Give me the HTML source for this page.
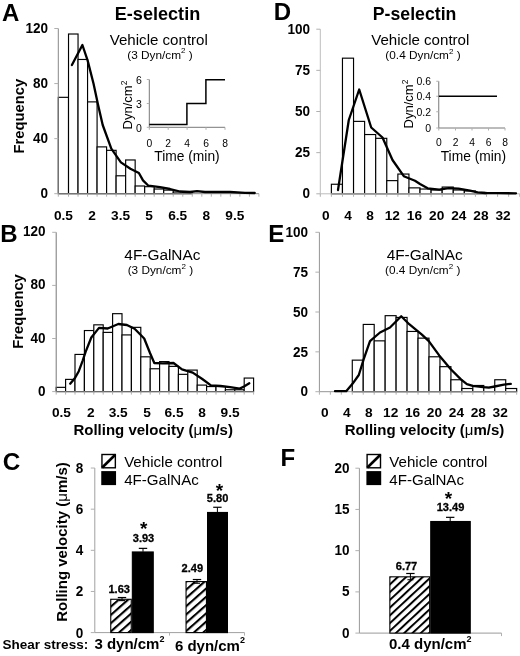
<!DOCTYPE html>
<html><head><meta charset="utf-8"><title>Figure</title>
<style>
html,body{margin:0;padding:0;background:#fff;}
body{width:520px;height:656px;overflow:hidden;}
svg{display:block;font-family:"Liberation Sans",Arial,Helvetica,sans-serif;}
</style></head><body>
<svg width="520" height="656" viewBox="0 0 520 656" fill="#000">
<defs><pattern id="hatchC" width="6.2" height="6.2" patternUnits="userSpaceOnUse" patternTransform="translate(110.3 632) rotate(-41.5) translate(0 -1.05)"><rect width="6.2" height="6.2" fill="#fff"/><rect width="6.2" height="2.1" fill="#000"/></pattern><pattern id="hatchF" width="5.67" height="5.67" patternUnits="userSpaceOnUse" patternTransform="translate(389.5 631.3) rotate(-43) translate(0 -1)"><rect width="5.67" height="5.67" fill="#fff"/><rect width="5.67" height="2.0" fill="#000"/></pattern></defs>
<text x="1.9" y="21" font-size="24" font-weight="bold" text-anchor="start">A</text>
<text x="273.8" y="20.0" font-size="24" font-weight="bold" text-anchor="start">D</text>
<text x="0.2" y="241.6" font-size="24" font-weight="bold" text-anchor="start">B</text>
<text x="268.2" y="241.6" font-size="24" font-weight="bold" text-anchor="start">E</text>
<text x="2.7" y="470.3" font-size="24.3" font-weight="bold" text-anchor="start">C</text>
<text x="280.6" y="465.9" font-size="24" font-weight="bold" text-anchor="start">F</text>
<text x="157.5" y="20.1" font-size="18.1" font-weight="bold" text-anchor="middle">E-selectin</text>
<text x="414.6" y="20.1" font-size="17.7" font-weight="bold" text-anchor="middle">P-selectin</text>
<rect x="58.30" y="97.33" width="10.22" height="96.37" fill="#fff" stroke="#000" stroke-width="1.15"/>
<rect x="68.52" y="34.01" width="9.52" height="159.69" fill="#fff" stroke="#000" stroke-width="1.15"/>
<rect x="78.04" y="59.47" width="9.52" height="134.22" fill="#fff" stroke="#000" stroke-width="1.15"/>
<rect x="87.56" y="101.88" width="9.52" height="91.82" fill="#fff" stroke="#000" stroke-width="1.15"/>
<rect x="97.08" y="146.89" width="9.52" height="46.81" fill="#fff" stroke="#000" stroke-width="1.15"/>
<rect x="106.60" y="150.33" width="9.52" height="43.36" fill="#fff" stroke="#000" stroke-width="1.15"/>
<rect x="116.12" y="175.80" width="9.52" height="17.90" fill="#fff" stroke="#000" stroke-width="1.15"/>
<rect x="125.64" y="159.97" width="9.52" height="33.73" fill="#fff" stroke="#000" stroke-width="1.15"/>
<rect x="135.16" y="185.99" width="9.52" height="7.71" fill="#fff" stroke="#000" stroke-width="1.15"/>
<rect x="144.68" y="186.68" width="9.52" height="7.02" fill="#fff" stroke="#000" stroke-width="1.15"/>
<rect x="154.20" y="189.02" width="9.52" height="4.68" fill="#fff" stroke="#000" stroke-width="1.15"/>
<rect x="163.72" y="190.12" width="9.52" height="3.58" fill="#fff" stroke="#000" stroke-width="1.15"/>
<rect x="173.24" y="192.05" width="9.52" height="1.65" fill="#fff" stroke="#000" stroke-width="1.15"/>
<rect x="182.76" y="192.60" width="9.52" height="1.10" fill="#fff" stroke="#000" stroke-width="1.15"/>
<line x1="58.3" y1="28.5" x2="58.3" y2="193.7" stroke="#888" stroke-width="1"/>
<line x1="58.3" y1="193.7" x2="258.91999999999996" y2="193.7" stroke="#888" stroke-width="1"/>
<line x1="54.3" y1="193.7" x2="58.3" y2="193.7" stroke="#b0b0b0" stroke-width="1"/>
<text transform="translate(48.0 198.4) scale(0.94 1)" font-size="14.4" font-weight="bold" text-anchor="end">0</text>
<line x1="54.3" y1="138.63333333333333" x2="58.3" y2="138.63333333333333" stroke="#b0b0b0" stroke-width="1"/>
<text transform="translate(48.0 143.33) scale(0.94 1)" font-size="14.4" font-weight="bold" text-anchor="end">40</text>
<line x1="54.3" y1="83.56666666666666" x2="58.3" y2="83.56666666666666" stroke="#b0b0b0" stroke-width="1"/>
<text transform="translate(48.0 88.27) scale(0.94 1)" font-size="14.4" font-weight="bold" text-anchor="end">80</text>
<line x1="54.3" y1="28.5" x2="58.3" y2="28.5" stroke="#b0b0b0" stroke-width="1"/>
<text transform="translate(48.0 33.2) scale(0.94 1)" font-size="14.4" font-weight="bold" text-anchor="end">120</text>
<line x1="58.3" y1="193.7" x2="58.3" y2="196.7" stroke="#b0b0b0" stroke-width="1"/>
<line x1="68.52" y1="193.7" x2="68.52" y2="196.7" stroke="#b0b0b0" stroke-width="1"/>
<line x1="78.04" y1="193.7" x2="78.04" y2="196.7" stroke="#b0b0b0" stroke-width="1"/>
<line x1="87.56" y1="193.7" x2="87.56" y2="196.7" stroke="#b0b0b0" stroke-width="1"/>
<line x1="97.08" y1="193.7" x2="97.08" y2="196.7" stroke="#b0b0b0" stroke-width="1"/>
<line x1="106.6" y1="193.7" x2="106.6" y2="196.7" stroke="#b0b0b0" stroke-width="1"/>
<line x1="116.12" y1="193.7" x2="116.12" y2="196.7" stroke="#b0b0b0" stroke-width="1"/>
<line x1="125.64" y1="193.7" x2="125.64" y2="196.7" stroke="#b0b0b0" stroke-width="1"/>
<line x1="135.16" y1="193.7" x2="135.16" y2="196.7" stroke="#b0b0b0" stroke-width="1"/>
<line x1="144.68" y1="193.7" x2="144.68" y2="196.7" stroke="#b0b0b0" stroke-width="1"/>
<line x1="154.2" y1="193.7" x2="154.2" y2="196.7" stroke="#b0b0b0" stroke-width="1"/>
<line x1="163.72" y1="193.7" x2="163.72" y2="196.7" stroke="#b0b0b0" stroke-width="1"/>
<line x1="173.24" y1="193.7" x2="173.24" y2="196.7" stroke="#b0b0b0" stroke-width="1"/>
<line x1="182.76" y1="193.7" x2="182.76" y2="196.7" stroke="#b0b0b0" stroke-width="1"/>
<line x1="192.28" y1="193.7" x2="192.28" y2="196.7" stroke="#b0b0b0" stroke-width="1"/>
<line x1="201.8" y1="193.7" x2="201.8" y2="196.7" stroke="#b0b0b0" stroke-width="1"/>
<line x1="211.32" y1="193.7" x2="211.32" y2="196.7" stroke="#b0b0b0" stroke-width="1"/>
<line x1="220.84" y1="193.7" x2="220.84" y2="196.7" stroke="#b0b0b0" stroke-width="1"/>
<line x1="230.36" y1="193.7" x2="230.36" y2="196.7" stroke="#b0b0b0" stroke-width="1"/>
<line x1="239.88" y1="193.7" x2="239.88" y2="196.7" stroke="#b0b0b0" stroke-width="1"/>
<line x1="249.4" y1="193.7" x2="249.4" y2="196.7" stroke="#b0b0b0" stroke-width="1"/>
<line x1="258.92" y1="193.7" x2="258.92" y2="196.7" stroke="#b0b0b0" stroke-width="1"/>
<text x="63.46" y="220.2" font-size="13.7" font-weight="bold" text-anchor="middle">0.5</text>
<text x="92.02" y="220.2" font-size="13.7" font-weight="bold" text-anchor="middle">2</text>
<text x="120.58" y="220.2" font-size="13.7" font-weight="bold" text-anchor="middle">3.5</text>
<text x="149.14" y="220.2" font-size="13.7" font-weight="bold" text-anchor="middle">5</text>
<text x="177.7" y="220.2" font-size="13.7" font-weight="bold" text-anchor="middle">6.5</text>
<text x="206.26" y="220.2" font-size="13.7" font-weight="bold" text-anchor="middle">8</text>
<text x="234.82" y="220.2" font-size="13.7" font-weight="bold" text-anchor="middle">9.5</text>
<polyline points="71.9,65.0 82.4,45.0 87.6,60.4 93.5,83.5 98.1,105.0 102.7,125.0 111.3,148.7 120.9,162.4 130.4,168.8 138.9,173.0 143.0,180.4 148.4,185.7 160.0,187.2 170.0,189.0 180.0,191.5 190.0,192.0 197.0,191.2 205.0,192.0 230.0,192.0 245.0,192.8 254.7,193.0" fill="none" stroke="#000" stroke-width="2.3" stroke-linejoin="round" stroke-linecap="round"/>
<text transform="translate(24.1 116.2) rotate(-90) scale(0.965 1)" font-size="15.3" font-weight="bold" text-anchor="middle">Frequency</text>
<text x="158.8" y="44.8" font-size="15.1" text-anchor="middle">Vehicle control</text>
<text x="160" y="58.7" font-size="11.8" text-anchor="middle">(3 Dyn/cm<tspan font-size="8" dy="-5.3">2</tspan><tspan dy="5.3"> )</tspan></text>
<line x1="149.3" y1="79.5" x2="149.3" y2="127.3" stroke="#787878" stroke-width="1"/>
<line x1="149.3" y1="127.3" x2="225" y2="127.3" stroke="#787878" stroke-width="1"/>
<line x1="146.8" y1="79.5" x2="149.3" y2="79.5" stroke="#b0b0b0" stroke-width="1"/>
<text x="141.9" y="83.7" font-size="10.5" text-anchor="end">6</text>
<line x1="146.8" y1="103.5" x2="149.3" y2="103.5" stroke="#b0b0b0" stroke-width="1"/>
<text x="141.9" y="107.7" font-size="10.5" text-anchor="end">3</text>
<line x1="146.8" y1="127.3" x2="149.3" y2="127.3" stroke="#b0b0b0" stroke-width="1"/>
<text x="141.9" y="131.5" font-size="10.5" text-anchor="end">0</text>
<line x1="149.3" y1="127.3" x2="149.3" y2="129.8" stroke="#b0b0b0" stroke-width="1"/>
<text x="149.3" y="146.5" font-size="10.3" text-anchor="middle">0</text>
<line x1="168.2" y1="127.3" x2="168.2" y2="129.8" stroke="#b0b0b0" stroke-width="1"/>
<text x="168.2" y="146.5" font-size="10.3" text-anchor="middle">2</text>
<line x1="187.1" y1="127.3" x2="187.1" y2="129.8" stroke="#b0b0b0" stroke-width="1"/>
<text x="187.1" y="146.5" font-size="10.3" text-anchor="middle">4</text>
<line x1="206" y1="127.3" x2="206" y2="129.8" stroke="#b0b0b0" stroke-width="1"/>
<text x="206" y="146.5" font-size="10.3" text-anchor="middle">6</text>
<line x1="225" y1="127.3" x2="225" y2="129.8" stroke="#b0b0b0" stroke-width="1"/>
<text x="225" y="146.5" font-size="10.3" text-anchor="middle">8</text>
<polyline points="149.3,124.5 186.9,124.5 186.9,103.5 205.9,103.5 205.9,79.8 225.0,79.8" fill="none" stroke="#000" stroke-width="1.5"/>
<text x="131.5" y="105" font-size="13" text-anchor="middle" transform="rotate(-90 131.5 105)">Dyn/cm<tspan font-size="8.5" dy="-5">2</tspan></text>
<text x="187" y="160.8" font-size="13.8" text-anchor="middle">Time (min)</text>
<rect x="331.38" y="184.25" width="11.08" height="9.55" fill="#fff" stroke="#000" stroke-width="1.15"/>
<rect x="342.46" y="58.17" width="11.08" height="135.63" fill="#fff" stroke="#000" stroke-width="1.15"/>
<rect x="353.54" y="121.38" width="11.08" height="72.42" fill="#fff" stroke="#000" stroke-width="1.15"/>
<rect x="364.62" y="134.54" width="11.08" height="59.26" fill="#fff" stroke="#000" stroke-width="1.15"/>
<rect x="375.70" y="138.33" width="11.08" height="55.47" fill="#fff" stroke="#000" stroke-width="1.15"/>
<rect x="386.78" y="180.63" width="11.08" height="13.17" fill="#fff" stroke="#000" stroke-width="1.15"/>
<rect x="397.86" y="174.05" width="11.08" height="19.75" fill="#fff" stroke="#000" stroke-width="1.15"/>
<rect x="408.94" y="187.87" width="11.08" height="5.93" fill="#fff" stroke="#000" stroke-width="1.15"/>
<rect x="420.02" y="189.03" width="11.08" height="4.77" fill="#fff" stroke="#000" stroke-width="1.15"/>
<rect x="431.10" y="190.01" width="11.08" height="3.79" fill="#fff" stroke="#000" stroke-width="1.15"/>
<rect x="442.18" y="187.05" width="11.08" height="6.75" fill="#fff" stroke="#000" stroke-width="1.15"/>
<rect x="453.26" y="190.01" width="11.08" height="3.79" fill="#fff" stroke="#000" stroke-width="1.15"/>
<rect x="464.34" y="191.00" width="11.08" height="2.80" fill="#fff" stroke="#000" stroke-width="1.15"/>
<rect x="475.42" y="192.48" width="11.08" height="1.32" fill="#fff" stroke="#000" stroke-width="1.15"/>
<line x1="320.3" y1="29.2" x2="320.3" y2="193.8" stroke="#bdbdbd" stroke-width="1"/>
<line x1="320.3" y1="193.8" x2="519.74" y2="193.8" stroke="#bdbdbd" stroke-width="1"/>
<line x1="316.3" y1="193.8" x2="320.3" y2="193.8" stroke="#b0b0b0" stroke-width="1"/>
<text transform="translate(310 198.1) scale(0.94 1)" font-size="14.4" font-weight="bold" text-anchor="end">0</text>
<line x1="316.3" y1="152.65" x2="320.3" y2="152.65" stroke="#b0b0b0" stroke-width="1"/>
<text transform="translate(310 156.95) scale(0.94 1)" font-size="14.4" font-weight="bold" text-anchor="end">25</text>
<line x1="316.3" y1="111.5" x2="320.3" y2="111.5" stroke="#b0b0b0" stroke-width="1"/>
<text transform="translate(310 115.8) scale(0.94 1)" font-size="14.4" font-weight="bold" text-anchor="end">50</text>
<line x1="316.3" y1="70.35000000000001" x2="320.3" y2="70.35000000000001" stroke="#b0b0b0" stroke-width="1"/>
<text transform="translate(310 74.65) scale(0.94 1)" font-size="14.4" font-weight="bold" text-anchor="end">75</text>
<line x1="316.3" y1="29.19999999999999" x2="320.3" y2="29.19999999999999" stroke="#b0b0b0" stroke-width="1"/>
<text transform="translate(310 33.5) scale(0.94 1)" font-size="14.4" font-weight="bold" text-anchor="end">100</text>
<line x1="320.3" y1="193.8" x2="320.3" y2="196.8" stroke="#b0b0b0" stroke-width="1"/>
<line x1="331.38" y1="193.8" x2="331.38" y2="196.8" stroke="#b0b0b0" stroke-width="1"/>
<line x1="342.46" y1="193.8" x2="342.46" y2="196.8" stroke="#b0b0b0" stroke-width="1"/>
<line x1="353.54" y1="193.8" x2="353.54" y2="196.8" stroke="#b0b0b0" stroke-width="1"/>
<line x1="364.62" y1="193.8" x2="364.62" y2="196.8" stroke="#b0b0b0" stroke-width="1"/>
<line x1="375.7" y1="193.8" x2="375.7" y2="196.8" stroke="#b0b0b0" stroke-width="1"/>
<line x1="386.78" y1="193.8" x2="386.78" y2="196.8" stroke="#b0b0b0" stroke-width="1"/>
<line x1="397.86" y1="193.8" x2="397.86" y2="196.8" stroke="#b0b0b0" stroke-width="1"/>
<line x1="408.94" y1="193.8" x2="408.94" y2="196.8" stroke="#b0b0b0" stroke-width="1"/>
<line x1="420.02" y1="193.8" x2="420.02" y2="196.8" stroke="#b0b0b0" stroke-width="1"/>
<line x1="431.1" y1="193.8" x2="431.1" y2="196.8" stroke="#b0b0b0" stroke-width="1"/>
<line x1="442.18" y1="193.8" x2="442.18" y2="196.8" stroke="#b0b0b0" stroke-width="1"/>
<line x1="453.26" y1="193.8" x2="453.26" y2="196.8" stroke="#b0b0b0" stroke-width="1"/>
<line x1="464.34" y1="193.8" x2="464.34" y2="196.8" stroke="#b0b0b0" stroke-width="1"/>
<line x1="475.42" y1="193.8" x2="475.42" y2="196.8" stroke="#b0b0b0" stroke-width="1"/>
<line x1="486.5" y1="193.8" x2="486.5" y2="196.8" stroke="#b0b0b0" stroke-width="1"/>
<line x1="497.58" y1="193.8" x2="497.58" y2="196.8" stroke="#b0b0b0" stroke-width="1"/>
<line x1="508.66" y1="193.8" x2="508.66" y2="196.8" stroke="#b0b0b0" stroke-width="1"/>
<line x1="519.74" y1="193.8" x2="519.74" y2="196.8" stroke="#b0b0b0" stroke-width="1"/>
<text x="325.84" y="220.2" font-size="13.7" font-weight="bold" text-anchor="middle">0</text>
<text x="348.0" y="220.2" font-size="13.7" font-weight="bold" text-anchor="middle">4</text>
<text x="370.16" y="220.2" font-size="13.7" font-weight="bold" text-anchor="middle">8</text>
<text x="392.32" y="220.2" font-size="13.7" font-weight="bold" text-anchor="middle">12</text>
<text x="414.48" y="220.2" font-size="13.7" font-weight="bold" text-anchor="middle">16</text>
<text x="436.64" y="220.2" font-size="13.7" font-weight="bold" text-anchor="middle">20</text>
<text x="458.8" y="220.2" font-size="13.7" font-weight="bold" text-anchor="middle">24</text>
<text x="480.96" y="220.2" font-size="13.7" font-weight="bold" text-anchor="middle">28</text>
<text x="503.12" y="220.2" font-size="13.7" font-weight="bold" text-anchor="middle">32</text>
<polyline points="338.0,190.0 348.8,120.0 359.2,89.5 371.2,127.5 382.5,137.5 392.5,160.0 403.8,176.2 415.0,180.8 420.0,184.0 427.7,188.3 439.2,189.6 448.8,188.1 458.5,188.6 470.0,190.6 477.7,192.3 485.4,193.0 497.0,193.2 516.0,193.3" fill="none" stroke="#000" stroke-width="2.3" stroke-linejoin="round" stroke-linecap="round"/>
<text x="420.3" y="45.1" font-size="15.1" text-anchor="middle">Vehicle control</text>
<text x="423" y="59" font-size="11.8" text-anchor="middle">(0.4 Dyn/cm<tspan font-size="8" dy="-5.3">2</tspan><tspan dy="5.3"> )</tspan></text>
<line x1="438.75" y1="81.25" x2="438.75" y2="128" stroke="#787878" stroke-width="1"/>
<line x1="438.75" y1="128" x2="505" y2="128" stroke="#787878" stroke-width="1"/>
<line x1="436.25" y1="81.25" x2="438.75" y2="81.25" stroke="#b0b0b0" stroke-width="1"/>
<text x="431" y="85.45" font-size="10.5" text-anchor="end">0.6</text>
<line x1="436.25" y1="96.25" x2="438.75" y2="96.25" stroke="#b0b0b0" stroke-width="1"/>
<text x="431" y="100.45" font-size="10.5" text-anchor="end">0.4</text>
<line x1="436.25" y1="111.75" x2="438.75" y2="111.75" stroke="#b0b0b0" stroke-width="1"/>
<text x="431" y="115.95" font-size="10.5" text-anchor="end">0.2</text>
<line x1="436.25" y1="128" x2="438.75" y2="128" stroke="#b0b0b0" stroke-width="1"/>
<text x="431" y="132.2" font-size="10.5" text-anchor="end">0</text>
<line x1="438.75" y1="128" x2="438.75" y2="130.5" stroke="#b0b0b0" stroke-width="1"/>
<text x="438.75" y="146.3" font-size="10.3" text-anchor="middle">0</text>
<line x1="455.5" y1="128" x2="455.5" y2="130.5" stroke="#b0b0b0" stroke-width="1"/>
<text x="455.5" y="146.3" font-size="10.3" text-anchor="middle">2</text>
<line x1="472" y1="128" x2="472" y2="130.5" stroke="#b0b0b0" stroke-width="1"/>
<text x="472" y="146.3" font-size="10.3" text-anchor="middle">4</text>
<line x1="488.5" y1="128" x2="488.5" y2="130.5" stroke="#b0b0b0" stroke-width="1"/>
<text x="488.5" y="146.3" font-size="10.3" text-anchor="middle">6</text>
<line x1="505" y1="128" x2="505" y2="130.5" stroke="#b0b0b0" stroke-width="1"/>
<text x="505" y="146.3" font-size="10.3" text-anchor="middle">8</text>
<polyline points="438.8,96.2 497.0,96.2" fill="none" stroke="#000" stroke-width="1.5"/>
<text x="413" y="104" font-size="13" text-anchor="middle" transform="rotate(-90 413 104)">Dyn/cm<tspan font-size="8.5" dy="-5">2</tspan></text>
<text x="473.4" y="160.8" font-size="13.8" text-anchor="middle">Time (min)</text>
<rect x="56.20" y="387.35" width="9.40" height="4.25" fill="#fff" stroke="#000" stroke-width="1.15"/>
<rect x="65.60" y="379.39" width="9.40" height="12.21" fill="#fff" stroke="#000" stroke-width="1.15"/>
<rect x="75.00" y="354.43" width="9.40" height="37.17" fill="#fff" stroke="#000" stroke-width="1.15"/>
<rect x="84.40" y="330.54" width="9.40" height="61.07" fill="#fff" stroke="#000" stroke-width="1.15"/>
<rect x="93.80" y="324.83" width="9.40" height="66.77" fill="#fff" stroke="#000" stroke-width="1.15"/>
<rect x="103.20" y="332.39" width="9.40" height="59.21" fill="#fff" stroke="#000" stroke-width="1.15"/>
<rect x="112.60" y="313.68" width="9.40" height="77.92" fill="#fff" stroke="#000" stroke-width="1.15"/>
<rect x="122.00" y="334.92" width="9.40" height="56.68" fill="#fff" stroke="#000" stroke-width="1.15"/>
<rect x="131.40" y="327.35" width="9.40" height="64.25" fill="#fff" stroke="#000" stroke-width="1.15"/>
<rect x="140.80" y="356.82" width="9.40" height="34.78" fill="#fff" stroke="#000" stroke-width="1.15"/>
<rect x="150.20" y="368.77" width="9.40" height="22.83" fill="#fff" stroke="#000" stroke-width="1.15"/>
<rect x="159.60" y="361.60" width="9.40" height="30.00" fill="#fff" stroke="#000" stroke-width="1.15"/>
<rect x="169.00" y="366.38" width="9.40" height="25.22" fill="#fff" stroke="#000" stroke-width="1.15"/>
<rect x="178.40" y="374.34" width="9.40" height="17.26" fill="#fff" stroke="#000" stroke-width="1.15"/>
<rect x="187.80" y="370.09" width="9.40" height="21.51" fill="#fff" stroke="#000" stroke-width="1.15"/>
<rect x="197.20" y="385.10" width="9.40" height="6.50" fill="#fff" stroke="#000" stroke-width="1.15"/>
<rect x="206.60" y="386.56" width="9.40" height="5.04" fill="#fff" stroke="#000" stroke-width="1.15"/>
<rect x="216.00" y="386.56" width="9.40" height="5.04" fill="#fff" stroke="#000" stroke-width="1.15"/>
<rect x="225.40" y="389.74" width="9.40" height="1.86" fill="#fff" stroke="#000" stroke-width="1.15"/>
<rect x="234.80" y="389.74" width="9.40" height="1.86" fill="#fff" stroke="#000" stroke-width="1.15"/>
<rect x="244.20" y="378.06" width="9.40" height="13.54" fill="#fff" stroke="#000" stroke-width="1.15"/>
<line x1="56.2" y1="232.3" x2="56.2" y2="391.6" stroke="#777" stroke-width="1"/>
<line x1="56.2" y1="391.6" x2="253.60000000000002" y2="391.6" stroke="#777" stroke-width="1"/>
<line x1="52.2" y1="391.6" x2="56.2" y2="391.6" stroke="#b0b0b0" stroke-width="1"/>
<text transform="translate(45.6 395.6) scale(0.94 1)" font-size="14.4" font-weight="bold" text-anchor="end">0</text>
<line x1="52.2" y1="338.5" x2="56.2" y2="338.5" stroke="#b0b0b0" stroke-width="1"/>
<text transform="translate(45.6 342.5) scale(0.94 1)" font-size="14.4" font-weight="bold" text-anchor="end">40</text>
<line x1="52.2" y1="285.4" x2="56.2" y2="285.4" stroke="#b0b0b0" stroke-width="1"/>
<text transform="translate(45.6 289.4) scale(0.94 1)" font-size="14.4" font-weight="bold" text-anchor="end">80</text>
<line x1="52.2" y1="232.3" x2="56.2" y2="232.3" stroke="#b0b0b0" stroke-width="1"/>
<text transform="translate(45.6 236.3) scale(0.94 1)" font-size="14.4" font-weight="bold" text-anchor="end">120</text>
<line x1="56.2" y1="391.6" x2="56.2" y2="394.6" stroke="#b0b0b0" stroke-width="1"/>
<line x1="65.6" y1="391.6" x2="65.6" y2="394.6" stroke="#b0b0b0" stroke-width="1"/>
<line x1="75.0" y1="391.6" x2="75.0" y2="394.6" stroke="#b0b0b0" stroke-width="1"/>
<line x1="84.4" y1="391.6" x2="84.4" y2="394.6" stroke="#b0b0b0" stroke-width="1"/>
<line x1="93.8" y1="391.6" x2="93.8" y2="394.6" stroke="#b0b0b0" stroke-width="1"/>
<line x1="103.2" y1="391.6" x2="103.2" y2="394.6" stroke="#b0b0b0" stroke-width="1"/>
<line x1="112.6" y1="391.6" x2="112.6" y2="394.6" stroke="#b0b0b0" stroke-width="1"/>
<line x1="122.0" y1="391.6" x2="122.0" y2="394.6" stroke="#b0b0b0" stroke-width="1"/>
<line x1="131.4" y1="391.6" x2="131.4" y2="394.6" stroke="#b0b0b0" stroke-width="1"/>
<line x1="140.8" y1="391.6" x2="140.8" y2="394.6" stroke="#b0b0b0" stroke-width="1"/>
<line x1="150.2" y1="391.6" x2="150.2" y2="394.6" stroke="#b0b0b0" stroke-width="1"/>
<line x1="159.6" y1="391.6" x2="159.6" y2="394.6" stroke="#b0b0b0" stroke-width="1"/>
<line x1="169.0" y1="391.6" x2="169.0" y2="394.6" stroke="#b0b0b0" stroke-width="1"/>
<line x1="178.4" y1="391.6" x2="178.4" y2="394.6" stroke="#b0b0b0" stroke-width="1"/>
<line x1="187.8" y1="391.6" x2="187.8" y2="394.6" stroke="#b0b0b0" stroke-width="1"/>
<line x1="197.2" y1="391.6" x2="197.2" y2="394.6" stroke="#b0b0b0" stroke-width="1"/>
<line x1="206.6" y1="391.6" x2="206.6" y2="394.6" stroke="#b0b0b0" stroke-width="1"/>
<line x1="216.0" y1="391.6" x2="216.0" y2="394.6" stroke="#b0b0b0" stroke-width="1"/>
<line x1="225.4" y1="391.6" x2="225.4" y2="394.6" stroke="#b0b0b0" stroke-width="1"/>
<line x1="234.8" y1="391.6" x2="234.8" y2="394.6" stroke="#b0b0b0" stroke-width="1"/>
<line x1="244.2" y1="391.6" x2="244.2" y2="394.6" stroke="#b0b0b0" stroke-width="1"/>
<line x1="253.6" y1="391.6" x2="253.6" y2="394.6" stroke="#b0b0b0" stroke-width="1"/>
<text x="61.4" y="417.4" font-size="13.7" font-weight="bold" text-anchor="middle">0.5</text>
<text x="90.7" y="417.4" font-size="13.7" font-weight="bold" text-anchor="middle">2</text>
<text x="118.2" y="417.4" font-size="13.7" font-weight="bold" text-anchor="middle">3.5</text>
<text x="147" y="417.4" font-size="13.7" font-weight="bold" text-anchor="middle">5</text>
<text x="174" y="417.4" font-size="13.7" font-weight="bold" text-anchor="middle">6.5</text>
<text x="202" y="417.4" font-size="13.7" font-weight="bold" text-anchor="middle">8</text>
<text x="230.1" y="417.4" font-size="13.7" font-weight="bold" text-anchor="middle">9.5</text>
<polyline points="70.2,383.7 75.0,377.9 78.8,371.2 82.7,360.6 85.6,351.9 91.3,337.5 99.0,327.9 107.7,328.5 118.3,324.0 126.9,325.0 134.6,328.8 144.2,338.5 150.0,353.0 154.3,363.0 162.8,363.4 173.5,363.0 182.0,369.4 192.7,372.6 202.3,379.0 210.9,385.4 220.5,386.0 230.1,387.1 239.7,388.6 244.0,386.5 249.3,383.3" fill="none" stroke="#000" stroke-width="2.3" stroke-linejoin="round" stroke-linecap="round"/>
<text transform="translate(22.8 311.5) rotate(-90) scale(0.965 1)" font-size="15.3" font-weight="bold" text-anchor="middle">Frequency</text>
<text x="162.4" y="260.4" font-size="15.4" text-anchor="middle">4F-GalNAc</text>
<text x="160.4" y="274" font-size="11.8" text-anchor="middle">(3 Dyn/cm<tspan font-size="8" dy="-5.3">2</tspan><tspan dy="5.3"> )</tspan></text>
<text x="153.2" y="434.6" font-size="15" font-weight="bold" text-anchor="middle">Rolling velocity (<tspan font-weight="normal">μ</tspan>m/s)</text>
<rect x="352.28" y="360.14" width="10.96" height="31.56" fill="#fff" stroke="#000" stroke-width="1.15"/>
<rect x="363.24" y="324.43" width="10.96" height="67.27" fill="#fff" stroke="#000" stroke-width="1.15"/>
<rect x="374.20" y="340.85" width="10.96" height="50.85" fill="#fff" stroke="#000" stroke-width="1.15"/>
<rect x="385.16" y="315.67" width="10.96" height="76.03" fill="#fff" stroke="#000" stroke-width="1.15"/>
<rect x="396.12" y="317.42" width="10.96" height="74.28" fill="#fff" stroke="#000" stroke-width="1.15"/>
<rect x="407.08" y="331.45" width="10.96" height="60.25" fill="#fff" stroke="#000" stroke-width="1.15"/>
<rect x="418.04" y="338.14" width="10.96" height="53.56" fill="#fff" stroke="#000" stroke-width="1.15"/>
<rect x="429.00" y="356.79" width="10.96" height="34.91" fill="#fff" stroke="#000" stroke-width="1.15"/>
<rect x="439.96" y="366.67" width="10.96" height="25.03" fill="#fff" stroke="#000" stroke-width="1.15"/>
<rect x="450.92" y="379.75" width="10.96" height="11.95" fill="#fff" stroke="#000" stroke-width="1.15"/>
<rect x="461.88" y="388.51" width="10.96" height="3.19" fill="#fff" stroke="#000" stroke-width="1.15"/>
<rect x="472.84" y="385.48" width="10.96" height="6.22" fill="#fff" stroke="#000" stroke-width="1.15"/>
<rect x="483.80" y="387.40" width="10.96" height="4.30" fill="#fff" stroke="#000" stroke-width="1.15"/>
<rect x="494.76" y="379.75" width="10.96" height="11.95" fill="#fff" stroke="#000" stroke-width="1.15"/>
<rect x="505.72" y="388.51" width="10.96" height="3.19" fill="#fff" stroke="#000" stroke-width="1.15"/>
<line x1="319.4" y1="232.3" x2="319.4" y2="391.7" stroke="#949494" stroke-width="1"/>
<line x1="319.4" y1="391.7" x2="516.6800000000001" y2="391.7" stroke="#949494" stroke-width="1"/>
<line x1="315.4" y1="391.7" x2="319.4" y2="391.7" stroke="#b0b0b0" stroke-width="1"/>
<text transform="translate(308 396.4) scale(0.94 1)" font-size="14.4" font-weight="bold" text-anchor="end">0</text>
<line x1="315.4" y1="351.85" x2="319.4" y2="351.85" stroke="#b0b0b0" stroke-width="1"/>
<text transform="translate(308 356.55) scale(0.94 1)" font-size="14.4" font-weight="bold" text-anchor="end">25</text>
<line x1="315.4" y1="312.0" x2="319.4" y2="312.0" stroke="#b0b0b0" stroke-width="1"/>
<text transform="translate(308 316.7) scale(0.94 1)" font-size="14.4" font-weight="bold" text-anchor="end">50</text>
<line x1="315.4" y1="272.15" x2="319.4" y2="272.15" stroke="#b0b0b0" stroke-width="1"/>
<text transform="translate(308 276.85) scale(0.94 1)" font-size="14.4" font-weight="bold" text-anchor="end">75</text>
<line x1="315.4" y1="232.3" x2="319.4" y2="232.3" stroke="#b0b0b0" stroke-width="1"/>
<text transform="translate(308 237.0) scale(0.94 1)" font-size="14.4" font-weight="bold" text-anchor="end">100</text>
<line x1="319.4" y1="391.7" x2="319.4" y2="394.7" stroke="#b0b0b0" stroke-width="1"/>
<line x1="330.36" y1="391.7" x2="330.36" y2="394.7" stroke="#b0b0b0" stroke-width="1"/>
<line x1="341.32" y1="391.7" x2="341.32" y2="394.7" stroke="#b0b0b0" stroke-width="1"/>
<line x1="352.28" y1="391.7" x2="352.28" y2="394.7" stroke="#b0b0b0" stroke-width="1"/>
<line x1="363.24" y1="391.7" x2="363.24" y2="394.7" stroke="#b0b0b0" stroke-width="1"/>
<line x1="374.2" y1="391.7" x2="374.2" y2="394.7" stroke="#b0b0b0" stroke-width="1"/>
<line x1="385.16" y1="391.7" x2="385.16" y2="394.7" stroke="#b0b0b0" stroke-width="1"/>
<line x1="396.12" y1="391.7" x2="396.12" y2="394.7" stroke="#b0b0b0" stroke-width="1"/>
<line x1="407.08" y1="391.7" x2="407.08" y2="394.7" stroke="#b0b0b0" stroke-width="1"/>
<line x1="418.04" y1="391.7" x2="418.04" y2="394.7" stroke="#b0b0b0" stroke-width="1"/>
<line x1="429.0" y1="391.7" x2="429.0" y2="394.7" stroke="#b0b0b0" stroke-width="1"/>
<line x1="439.96" y1="391.7" x2="439.96" y2="394.7" stroke="#b0b0b0" stroke-width="1"/>
<line x1="450.92" y1="391.7" x2="450.92" y2="394.7" stroke="#b0b0b0" stroke-width="1"/>
<line x1="461.88" y1="391.7" x2="461.88" y2="394.7" stroke="#b0b0b0" stroke-width="1"/>
<line x1="472.84" y1="391.7" x2="472.84" y2="394.7" stroke="#b0b0b0" stroke-width="1"/>
<line x1="483.8" y1="391.7" x2="483.8" y2="394.7" stroke="#b0b0b0" stroke-width="1"/>
<line x1="494.76" y1="391.7" x2="494.76" y2="394.7" stroke="#b0b0b0" stroke-width="1"/>
<line x1="505.72" y1="391.7" x2="505.72" y2="394.7" stroke="#b0b0b0" stroke-width="1"/>
<line x1="516.68" y1="391.7" x2="516.68" y2="394.7" stroke="#b0b0b0" stroke-width="1"/>
<text x="324.88" y="417.4" font-size="13.7" font-weight="bold" text-anchor="middle">0</text>
<text x="346.8" y="417.4" font-size="13.7" font-weight="bold" text-anchor="middle">4</text>
<text x="368.72" y="417.4" font-size="13.7" font-weight="bold" text-anchor="middle">8</text>
<text x="390.64" y="417.4" font-size="13.7" font-weight="bold" text-anchor="middle">12</text>
<text x="412.56" y="417.4" font-size="13.7" font-weight="bold" text-anchor="middle">16</text>
<text x="434.48" y="417.4" font-size="13.7" font-weight="bold" text-anchor="middle">20</text>
<text x="456.4" y="417.4" font-size="13.7" font-weight="bold" text-anchor="middle">24</text>
<text x="478.32" y="417.4" font-size="13.7" font-weight="bold" text-anchor="middle">28</text>
<text x="500.24" y="417.4" font-size="13.7" font-weight="bold" text-anchor="middle">32</text>
<polyline points="335.0,391.2 346.2,391.2 352.5,383.8 358.8,375.0 363.8,358.8 370.0,341.2 380.0,332.5 390.0,327.5 401.2,316.2 409.2,324.2 421.9,334.6 428.8,341.1 439.2,355.4 450.8,369.2 461.2,379.6 466.9,384.2 472.7,385.9 483.1,387.2 488.8,387.7 494.6,386.5 503.9,384.7 510.8,383.8" fill="none" stroke="#000" stroke-width="2.3" stroke-linejoin="round" stroke-linecap="round"/>
<text x="424.7" y="260.4" font-size="15.4" text-anchor="middle">4F-GalNAc</text>
<text x="422.7" y="274" font-size="11.8" text-anchor="middle">(0.4 Dyn/cm<tspan font-size="8" dy="-5.3">2</tspan><tspan dy="5.3"> )</tspan></text>
<text x="424.5" y="434.6" font-size="15" font-weight="bold" text-anchor="middle">Rolling velocity (<tspan font-weight="normal">μ</tspan>m/s)</text>
<line x1="94.8" y1="468.04" x2="94.8" y2="632.6" stroke="#a0a0a0" stroke-width="1"/>
<line x1="94.8" y1="632.6" x2="244.5" y2="632.6" stroke="#a0a0a0" stroke-width="1"/>
<line x1="169.5" y1="632.6" x2="169.5" y2="635.6" stroke="#b0b0b0" stroke-width="1"/>
<line x1="244.5" y1="632.6" x2="244.5" y2="635.6" stroke="#b0b0b0" stroke-width="1"/>
<line x1="90.8" y1="632.6" x2="94.8" y2="632.6" stroke="#b0b0b0" stroke-width="1"/>
<text transform="translate(83.3 637.5) scale(0.94 1)" font-size="14.4" font-weight="bold" text-anchor="end">0</text>
<line x1="90.8" y1="591.46" x2="94.8" y2="591.46" stroke="#b0b0b0" stroke-width="1"/>
<text transform="translate(83.3 596.36) scale(0.94 1)" font-size="14.4" font-weight="bold" text-anchor="end">2</text>
<line x1="90.8" y1="550.32" x2="94.8" y2="550.32" stroke="#b0b0b0" stroke-width="1"/>
<text transform="translate(83.3 555.22) scale(0.94 1)" font-size="14.4" font-weight="bold" text-anchor="end">4</text>
<line x1="90.8" y1="509.18" x2="94.8" y2="509.18" stroke="#b0b0b0" stroke-width="1"/>
<text transform="translate(83.3 514.08) scale(0.94 1)" font-size="14.4" font-weight="bold" text-anchor="end">6</text>
<line x1="90.8" y1="468.04" x2="94.8" y2="468.04" stroke="#b0b0b0" stroke-width="1"/>
<text transform="translate(83.3 472.94) scale(0.94 1)" font-size="14.4" font-weight="bold" text-anchor="end">8</text>
<rect x="110.75" y="599.27" width="20.50" height="33.33" fill="url(#hatchC)" stroke="#000" stroke-width="1.1"/>
<line x1="122.0" y1="597.53" x2="122.0" y2="600.61" stroke="#000" stroke-width="1"/>
<line x1="117.8" y1="597.53" x2="126.2" y2="597.53" stroke="#000" stroke-width="1.2"/>
<line x1="119.0" y1="600.61" x2="125.0" y2="600.61" stroke="#000" stroke-width="1.1"/>
<text transform="translate(119.2 592.8) scale(0.94 1)" x="0" y="0.5" font-size="11.8" font-weight="bold" stroke="#000" stroke-width="0.3" text-anchor="middle">1.63</text>
<rect x="132.35" y="551.96" width="20.90" height="80.64" fill="#000" stroke="#000" stroke-width="1.1"/>
<line x1="143.0" y1="548.37" x2="143.0" y2="551.76" stroke="#000" stroke-width="1"/>
<line x1="138.8" y1="548.37" x2="147.2" y2="548.37" stroke="#000" stroke-width="1.2"/>
<text transform="translate(143.5 541.0) scale(0.94 1)" x="0" y="0.5" font-size="11.8" font-weight="bold" stroke="#000" stroke-width="0.3" text-anchor="middle">3.93</text>
<text x="143.8" y="535.1" font-size="19" font-weight="bold" text-anchor="middle">*</text>
<rect x="186.05" y="581.58" width="20.40" height="51.02" fill="url(#hatchC)" stroke="#000" stroke-width="1.1"/>
<line x1="197.0" y1="579.53" x2="197.0" y2="583.23" stroke="#000" stroke-width="1"/>
<line x1="192.8" y1="579.53" x2="201.2" y2="579.53" stroke="#000" stroke-width="1.2"/>
<line x1="194.0" y1="583.23" x2="200.0" y2="583.23" stroke="#000" stroke-width="1.1"/>
<text transform="translate(192.3 571.9) scale(0.94 1)" x="0" y="0.5" font-size="11.8" font-weight="bold" stroke="#000" stroke-width="0.3" text-anchor="middle">2.49</text>
<rect x="207.55" y="512.47" width="19.90" height="120.13" fill="#000" stroke="#000" stroke-width="1.1"/>
<line x1="217.4" y1="507.27" x2="217.4" y2="512.27" stroke="#000" stroke-width="1"/>
<line x1="213.20000000000002" y1="507.27" x2="221.6" y2="507.27" stroke="#000" stroke-width="1.2"/>
<text transform="translate(217.6 501.4) scale(0.94 1)" x="0" y="0.5" font-size="11.8" font-weight="bold" stroke="#000" stroke-width="0.3" text-anchor="middle">5.80</text>
<text x="219.4" y="497.1" font-size="19" font-weight="bold" text-anchor="middle">*</text>
<rect x="101.95" y="454.5" width="13.4" height="13.3" fill="#fff" stroke="#000" stroke-width="1.4"/>
<line x1="102.25" y1="467.5" x2="115.25" y2="454.8" stroke="#000" stroke-width="2.6"/>
<rect x="101.25" y="471.1" width="14.8" height="14" fill="#000"/>
<text x="124.15" y="467.3" font-size="15.1" text-anchor="start">Vehicle control</text>
<text x="124.15" y="484.7" font-size="15.1" text-anchor="start">4F-GalNAc</text>
<text x="66.5" y="542" font-size="15" font-weight="bold" text-anchor="middle" transform="rotate(-90 66.5 542)">Rolling velocity (<tspan font-weight="normal">μ</tspan>m/s)</text>
<text x="2.6" y="649.2" font-size="13.5" font-weight="bold" text-anchor="start">Shear stress:</text>
<text x="94.4" y="649.2" font-size="15" font-weight="bold" text-anchor="start">3 dyn/cm<tspan font-size="9" dy="-7.2">2</tspan></text>
<text x="174.9" y="650.5" font-size="15" font-weight="bold" text-anchor="start">6 dyn/cm<tspan font-size="9" dy="-7.2">2</tspan></text>
<line x1="359.4" y1="468.2" x2="359.4" y2="633.1" stroke="#999" stroke-width="1"/>
<line x1="359.4" y1="633.1" x2="501.5" y2="633.1" stroke="#999" stroke-width="1"/>
<line x1="501.5" y1="633.1" x2="501.5" y2="636.1" stroke="#b0b0b0" stroke-width="1"/>
<line x1="355.4" y1="633.1" x2="359.4" y2="633.1" stroke="#b0b0b0" stroke-width="1"/>
<text transform="translate(349.5 637.6) scale(0.94 1)" font-size="14.4" font-weight="bold" text-anchor="end">0</text>
<line x1="355.4" y1="591.875" x2="359.4" y2="591.875" stroke="#b0b0b0" stroke-width="1"/>
<text transform="translate(349.5 596.38) scale(0.94 1)" font-size="14.4" font-weight="bold" text-anchor="end">5</text>
<line x1="355.4" y1="550.65" x2="359.4" y2="550.65" stroke="#b0b0b0" stroke-width="1"/>
<text transform="translate(349.5 555.15) scale(0.94 1)" font-size="14.4" font-weight="bold" text-anchor="end">10</text>
<line x1="355.4" y1="509.425" x2="359.4" y2="509.425" stroke="#b0b0b0" stroke-width="1"/>
<text transform="translate(349.5 513.92) scale(0.94 1)" font-size="14.4" font-weight="bold" text-anchor="end">15</text>
<line x1="355.4" y1="468.2" x2="359.4" y2="468.2" stroke="#b0b0b0" stroke-width="1"/>
<text transform="translate(349.5 472.7) scale(0.94 1)" font-size="14.4" font-weight="bold" text-anchor="end">20</text>
<rect x="389.85" y="576.82" width="39.80" height="56.28" fill="url(#hatchF)" stroke="#000" stroke-width="1.1"/>
<line x1="410.4" y1="573.49" x2="410.4" y2="579.75" stroke="#000" stroke-width="1"/>
<line x1="406.2" y1="573.49" x2="414.59999999999997" y2="573.49" stroke="#000" stroke-width="1.2"/>
<line x1="407.4" y1="579.75" x2="413.4" y2="579.75" stroke="#000" stroke-width="1.1"/>
<text transform="translate(406.5 569.6) scale(0.94 1)" x="0" y="0.5" font-size="11.8" font-weight="bold" stroke="#000" stroke-width="0.3" text-anchor="middle">6.77</text>
<rect x="430.75" y="521.50" width="39.50" height="111.60" fill="#000" stroke="#000" stroke-width="1.1"/>
<line x1="450.2" y1="517.34" x2="450.2" y2="521.3" stroke="#000" stroke-width="1"/>
<line x1="446.0" y1="517.34" x2="454.4" y2="517.34" stroke="#000" stroke-width="1.2"/>
<text transform="translate(450.5 510.5) scale(0.94 1)" x="0" y="0.5" font-size="11.8" font-weight="bold" stroke="#000" stroke-width="0.3" text-anchor="middle">13.49</text>
<text x="448.5" y="505.4" font-size="19" font-weight="bold" text-anchor="middle">*</text>
<rect x="367.09999999999997" y="454.5" width="13.4" height="13.3" fill="#fff" stroke="#000" stroke-width="1.4"/>
<line x1="367.4" y1="467.5" x2="380.4" y2="454.8" stroke="#000" stroke-width="2.6"/>
<rect x="366.4" y="471.1" width="14.8" height="14" fill="#000"/>
<text x="389.29999999999995" y="467.3" font-size="15.1" text-anchor="start">Vehicle control</text>
<text x="389.29999999999995" y="484.7" font-size="15.1" text-anchor="start">4F-GalNAc</text>
<text x="389.0" y="648.7" font-size="15" font-weight="bold" text-anchor="start">0.4 dyn/cm<tspan font-size="9" dy="-7.2">2</tspan></text>
</svg>
</body></html>
